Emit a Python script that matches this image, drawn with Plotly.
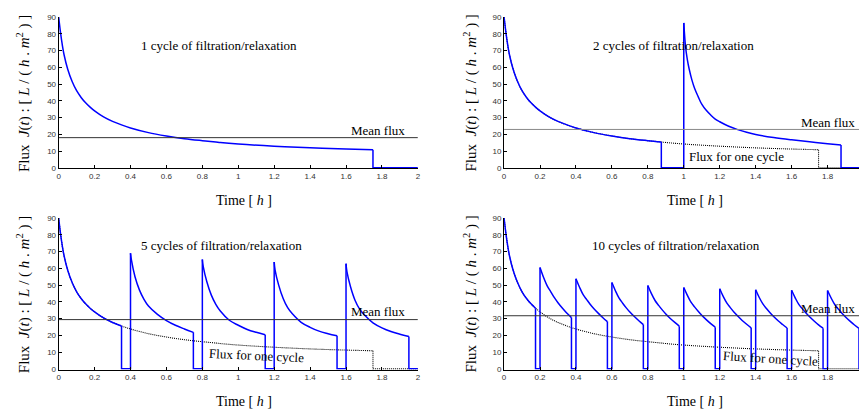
import plotly.graph_objects as go

W, H = 862, 415

# ---------------- data ----------------
# single filtration cycle (panel 1, also the dotted "Flux for one cycle")
t_one = [0, 0.01, 0.02, 0.03, 0.05, 0.075, 0.1, 0.125, 0.15, 0.175, 0.2, 0.25,
         0.3, 0.35, 0.4, 0.5, 0.6, 0.7, 0.8, 0.875, 0.9, 1.0, 1.2, 1.4, 1.6, 1.75]
J_one = [90, 81, 73.5, 67.5, 59, 51.5, 46, 42, 38.8, 36.2, 34, 30.4,
         27.7, 25.6, 23.8, 21, 19, 17.4, 16.2, 15.4, 15.1, 14.2, 12.9, 11.9, 11.2, 10.8]

titles = ["1 cycle of filtration/relaxation", "2 cycles of filtration/relaxation",
          "5 cycles of filtration/relaxation", "10 cycles of filtration/relaxation"]
period = [2.0, 1.0, 0.4, 0.2]            # h
filtration = [1.75, 0.875, 0.35, 0.175]  # h
mean_flux = [18.0, 22.9, 29.4, 31.7]
t_end = 2.0

# later cycles (time since cycle start, flux)
tau_2 = [0, 0.01, 0.02, 0.03, 0.045, 0.06, 0.08, 0.1, 0.125, 0.15, 0.175, 0.2, 0.25,
         0.3, 0.35, 0.4, 0.5, 0.6, 0.7, 0.8, 0.875]
cycles_2 = [
    [86.5, 72, 64.5, 59, 52.5, 47.5, 42.5, 38, 34.3, 31.5, 29.1, 27.5, 24.8,
     22.8, 21.2, 19.9, 18.1, 16.7, 15.5, 14.4, 13.6],
]

tau_5 = [0, 0.005, 0.025, 0.05, 0.075, 0.1, 0.15, 0.2, 0.25, 0.3, 0.35]
cycles_5 = [
    [69.0, 65, 55, 47, 41.5, 37.5, 32.5, 28.8, 26, 23.8, 21.8],
    [65.3, 61, 52, 44, 38.5, 34.5, 29, 26, 23.5, 21.8, 20.4],
    [63.8, 59, 50, 42, 36.5, 33, 27.8, 24.8, 22.5, 21, 19.7],
    [62.8, 58, 49, 41, 35.8, 32.4, 27.5, 24.5, 22.3, 20.7, 19.3],
]

tau_10 = [0, 0.02, 0.04, 0.06, 0.08, 0.1, 0.125, 0.15, 0.175]
cycles_10 = [
    [60.5, 54.5, 49.5, 46.0, 42.5, 39.5, 36.2, 33.2, 30.6],
    [53.8, 48.7, 44.3, 41.3, 38.4, 35.9, 33.1, 30.5, 28.2],
    [51.5, 46.5, 42.2, 39.2, 36.4, 33.9, 31.2, 28.7, 26.4],
    [49.8, 44.9, 40.8, 37.9, 35.2, 32.8, 30.1, 27.7, 25.5],
    [48.6, 43.9, 39.8, 37.0, 34.4, 32.0, 29.4, 27.0, 24.9],
    [47.8, 43.1, 39.2, 36.4, 33.8, 31.5, 28.9, 26.6, 24.5],
    [47.2, 42.6, 38.8, 36.0, 33.5, 31.2, 28.7, 26.5, 24.4],
    [46.9, 42.4, 38.5, 35.8, 33.3, 31.1, 28.6, 26.3, 24.3],
    [46.8, 42.3, 38.4, 35.7, 33.2, 31.0, 28.5, 26.2, 24.2],
]

later_tau = [None, tau_2, tau_5, tau_10]
later_cycles = [[], cycles_2, cycles_5, cycles_10]

x_tick_vals = [0, 0.2, 0.4, 0.6, 0.8, 1, 1.2, 1.4, 1.6, 1.8, 2]
x_tick_text = ["0", "0.2", "0.4", "0.6", "0.8", "1", "1.2", "1.4", "1.6", "1.8", "2"]
y_tick_vals = [0, 10, 20, 30, 40, 50, 60, 70, 80, 90]
y_tick_text = ["0", "10", "20", "30", "40", "50", "60", "70", "80", "90"]

# ---------------- layout helpers ----------------
def px(x):
    return x / W

def py(y):
    return 1 - y / H

BLUE = "#0000ff"
SERIF = "Liberation Serif, Times New Roman, serif"
DOTS = "1px,1px"

x_dom = [[px(57), px(418.3)], [px(505), 1.0], [px(57), px(418.3)], [px(505), 1.0]]
y_dom = [[py(167.7), py(13.3)], [py(167.7), py(13.3)],
         [py(372.7), py(218.3)], [py(372.7), py(218.3)]]
x_rng = [[0, 2.0], [0, 1.975], [0, 2.0], [0, 1.975]]

fig = go.Figure()

for i in range(4):
    xa = "x" if i == 0 else f"x{i + 1}"
    ya = "y" if i == 0 else f"y{i + 1}"
    filt = filtration[i]

    # dotted single-cycle reference (panels 2-4)
    if i > 0:
        fig.add_trace(go.Scatter(x=t_one, y=J_one, mode="lines", xaxis=xa, yaxis=ya,
                                 line=dict(color="black", width=1.1, dash=DOTS, shape="spline"),
                                 showlegend=False, hoverinfo="skip"))
        fig.add_trace(go.Scatter(x=[t_one[-1], t_one[-1], t_end], y=[J_one[-1], 0, 0],
                                 mode="lines", xaxis=xa, yaxis=ya,
                                 line=dict(color="black", width=1.1, dash=DOTS),
                                 showlegend=False, hoverinfo="skip"))

    # filtration segments
    segs = []
    first_t = [t for t in t_one if t <= filt + 1e-9]
    first_J = J_one[:len(first_t)]
    segs.append((first_t, first_J))
    for k, vals in enumerate(later_cycles[i], start=1):
        start = k * period[i]
        segs.append(([start + u for u in later_tau[i]], vals))

    cx, cy = [], []
    for sx, sy in segs:
        cx += list(sx) + [None]
        cy += list(sy) + [None]
    fig.add_trace(go.Scatter(x=cx, y=cy, mode="lines", xaxis=xa, yaxis=ya, connectgaps=False,
                             line=dict(color=BLUE, width=1.5, shape="spline"),
                             showlegend=False, hoverinfo="skip"))

    # relaxation steps
    rx, ry = [], []
    for k, (sx, sy) in enumerate(segs):
        rx += [sx[-1], sx[-1]]
        ry += [sy[-1], 0]
        if k + 1 < len(segs):
            nx, ny = segs[k + 1]
            rx += [nx[0], nx[0], None]
            ry += [0, ny[0], None]
        else:
            rx += [t_end]
            ry += [0]
    fig.add_trace(go.Scatter(x=rx, y=ry, mode="lines", xaxis=xa, yaxis=ya, connectgaps=False,
                             line=dict(color=BLUE, width=1.5),
                             showlegend=False, hoverinfo="skip"))

    # mean flux
    fig.add_trace(go.Scatter(x=[0, t_end], y=[mean_flux[i]] * 2, mode="lines",
                             xaxis=xa, yaxis=ya,
                             line=dict(color="#888888" if i == 1 else "#333333", width=1),
                             showlegend=False, hoverinfo="skip"))

    axis_common = dict(showline=True, linecolor="black", linewidth=1, ticks="inside",
                       ticklen=3, tickwidth=1, tickcolor="black", showgrid=False,
                       zeroline=False, mirror=False,
                       tickfont=dict(family="Liberation Sans, Arial", size=8, color="#333333"))
    fig.update_layout(**{
        ("xaxis" if i == 0 else f"xaxis{i + 1}"): dict(
            domain=x_dom[i], range=x_rng[i], anchor=ya, tickmode="array",
            tickvals=x_tick_vals, ticktext=x_tick_text, **axis_common),
        ("yaxis" if i == 0 else f"yaxis{i + 1}"): dict(
            domain=y_dom[i], range=[-0.4, 90], anchor=xa, tickmode="array",
            tickvals=y_tick_vals, ticktext=y_tick_text, **axis_common),
    })

# ---------------- text ----------------
ann = []

def text(x, y, s, size=13, angle=0):
    ann.append(dict(x=px(x), y=py(y), xref="paper", yref="paper", text=s, showarrow=False,
                    xanchor="center", yanchor="middle", textangle=angle,
                    font=dict(family=SERIF, size=size, color="black")))

ylab = ("Flux  <i>J</i>(<i>t</i>) : [ <i>L</i> / ( <i>h</i> . <i>m</i><sup>2</sup> ) ]")
xlab = "Time [ <i>h</i> ]"

# panel 1
text(218, 42, titles[0])
text(378, 129, "Mean flux")
text(243, 200, xlab, size=14)
text(21, 91, ylab, size=15, angle=-90)
# panel 2
text(675, 42, titles[1])
text(831, 121, "Mean flux")
text(739, 155, "Flux for one cycle")
text(697, 200, xlab, size=14)
text(471, 91, ylab, size=15, angle=-90)
# panel 3
text(221, 246, titles[2])
text(378, 314, "Mean flux")
text(256, 358, "Flux for one cycle", angle=2.6)
text(243, 405, xlab, size=14)
text(21, 296, ylab, size=15, angle=-90)
# panel 4
text(678, 246, titles[3])
text(831, 310, "Mean flux")
text(773, 361, "Flux for one cycle", angle=3.5)
text(697, 405, xlab, size=14)
text(471, 296, ylab, size=15, angle=-90)

fig.update_layout(width=W, height=H, autosize=False,
                  margin=dict(l=0, r=0, t=0, b=0),
                  paper_bgcolor="white", plot_bgcolor="white",
                  annotations=ann, showlegend=False)

fig.write_html("out.html", config={"displayModeBar": False, "staticPlot": True},
               post_script="document.body.style.margin='0';document.body.style.overflow='hidden';")
